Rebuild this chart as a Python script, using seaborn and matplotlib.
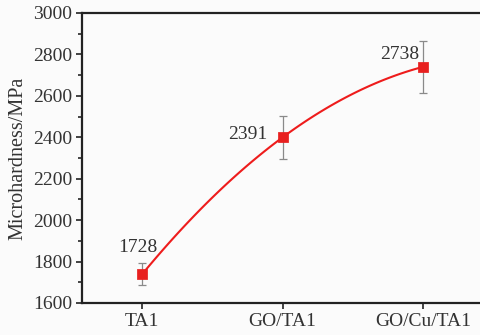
import numpy as np
import pandas as pd
import matplotlib
matplotlib.use("Agg")
import matplotlib.pyplot as plt
import seaborn as sns

# data
samples = ["TA1", "GO/TA1", "GO/Cu/TA1"]
hardness = [1740, 2400, 2740]
errors = [55, 105, 126]
labels = ["1728", "2391", "2738"]

sns.set_style("ticks")
plt.rcParams["font.family"] = ["Liberation Serif", "DejaVu Serif"]
plt.rcParams["font.size"] = 14

fig = plt.figure(figsize=(4.81, 3.35), dpi=100)
fig.patch.set_facecolor("#fbfbfb")
ax = fig.add_axes([82 / 481, 32 / 335, 1 - 82 / 481 + 0.002, 290 / 335])
ax.set_facecolor("#fbfbfb")

x = np.arange(len(samples))
# smooth quadratic curve through the three points
coef = np.polyfit(x, hardness, 2)
xs = np.linspace(0, 2, 100)
curve = pd.DataFrame({"x": xs, "y": np.polyval(coef, xs)})
sns.lineplot(data=curve, x="x", y="y", ax=ax, color="#ee1c1c", lw=1.5)

ax.errorbar(x, hardness, yerr=errors, fmt="none", ecolor="#8a8a8a",
            elinewidth=0.9, capsize=3, capthick=0.9, zorder=3)
sns.scatterplot(x=x, y=hardness, ax=ax, marker="s", s=45, color="#e8201f",
                edgecolor="#e8201f", zorder=4)

offsets = [(-3.5, 19, "center"), (-11, 2, "right"), (-3, 9, "right")]
for xi, yi, lab, (dx, dy, ha) in zip(x, hardness, labels, offsets):
    ax.annotate(lab, (xi, yi), xytext=(dx, dy), textcoords="offset points",
                ha=ha, va="center", fontsize=14, color="#333333")

ax.set_xlim(-0.43, 2.42)
ax.set_ylim(1600, 3000)
ax.set_xticks(x)
ax.set_xticklabels(samples)
ax.set_yticks(np.arange(1600, 3001, 200))
ax.set_yticks(np.arange(1700, 3000, 200), minor=True)
ax.tick_params(axis="both", direction="out", length=4, width=1.2, colors="#222222",
               labelsize=14, labelcolor="#333333", pad=3)
ax.tick_params(axis="y", which="minor", length=3, width=1.2)
ax.set_xlabel("")
ax.set_ylabel("Microhardness/MPa", fontsize=14.5, color="#333333", labelpad=4)
for side in ["left", "bottom", "top"]:
    ax.spines[side].set_linewidth(1.6)
    ax.spines[side].set_color("#222222")
ax.spines["right"].set_visible(False)

fig.savefig("out.png", dpi=100, facecolor=fig.get_facecolor())
